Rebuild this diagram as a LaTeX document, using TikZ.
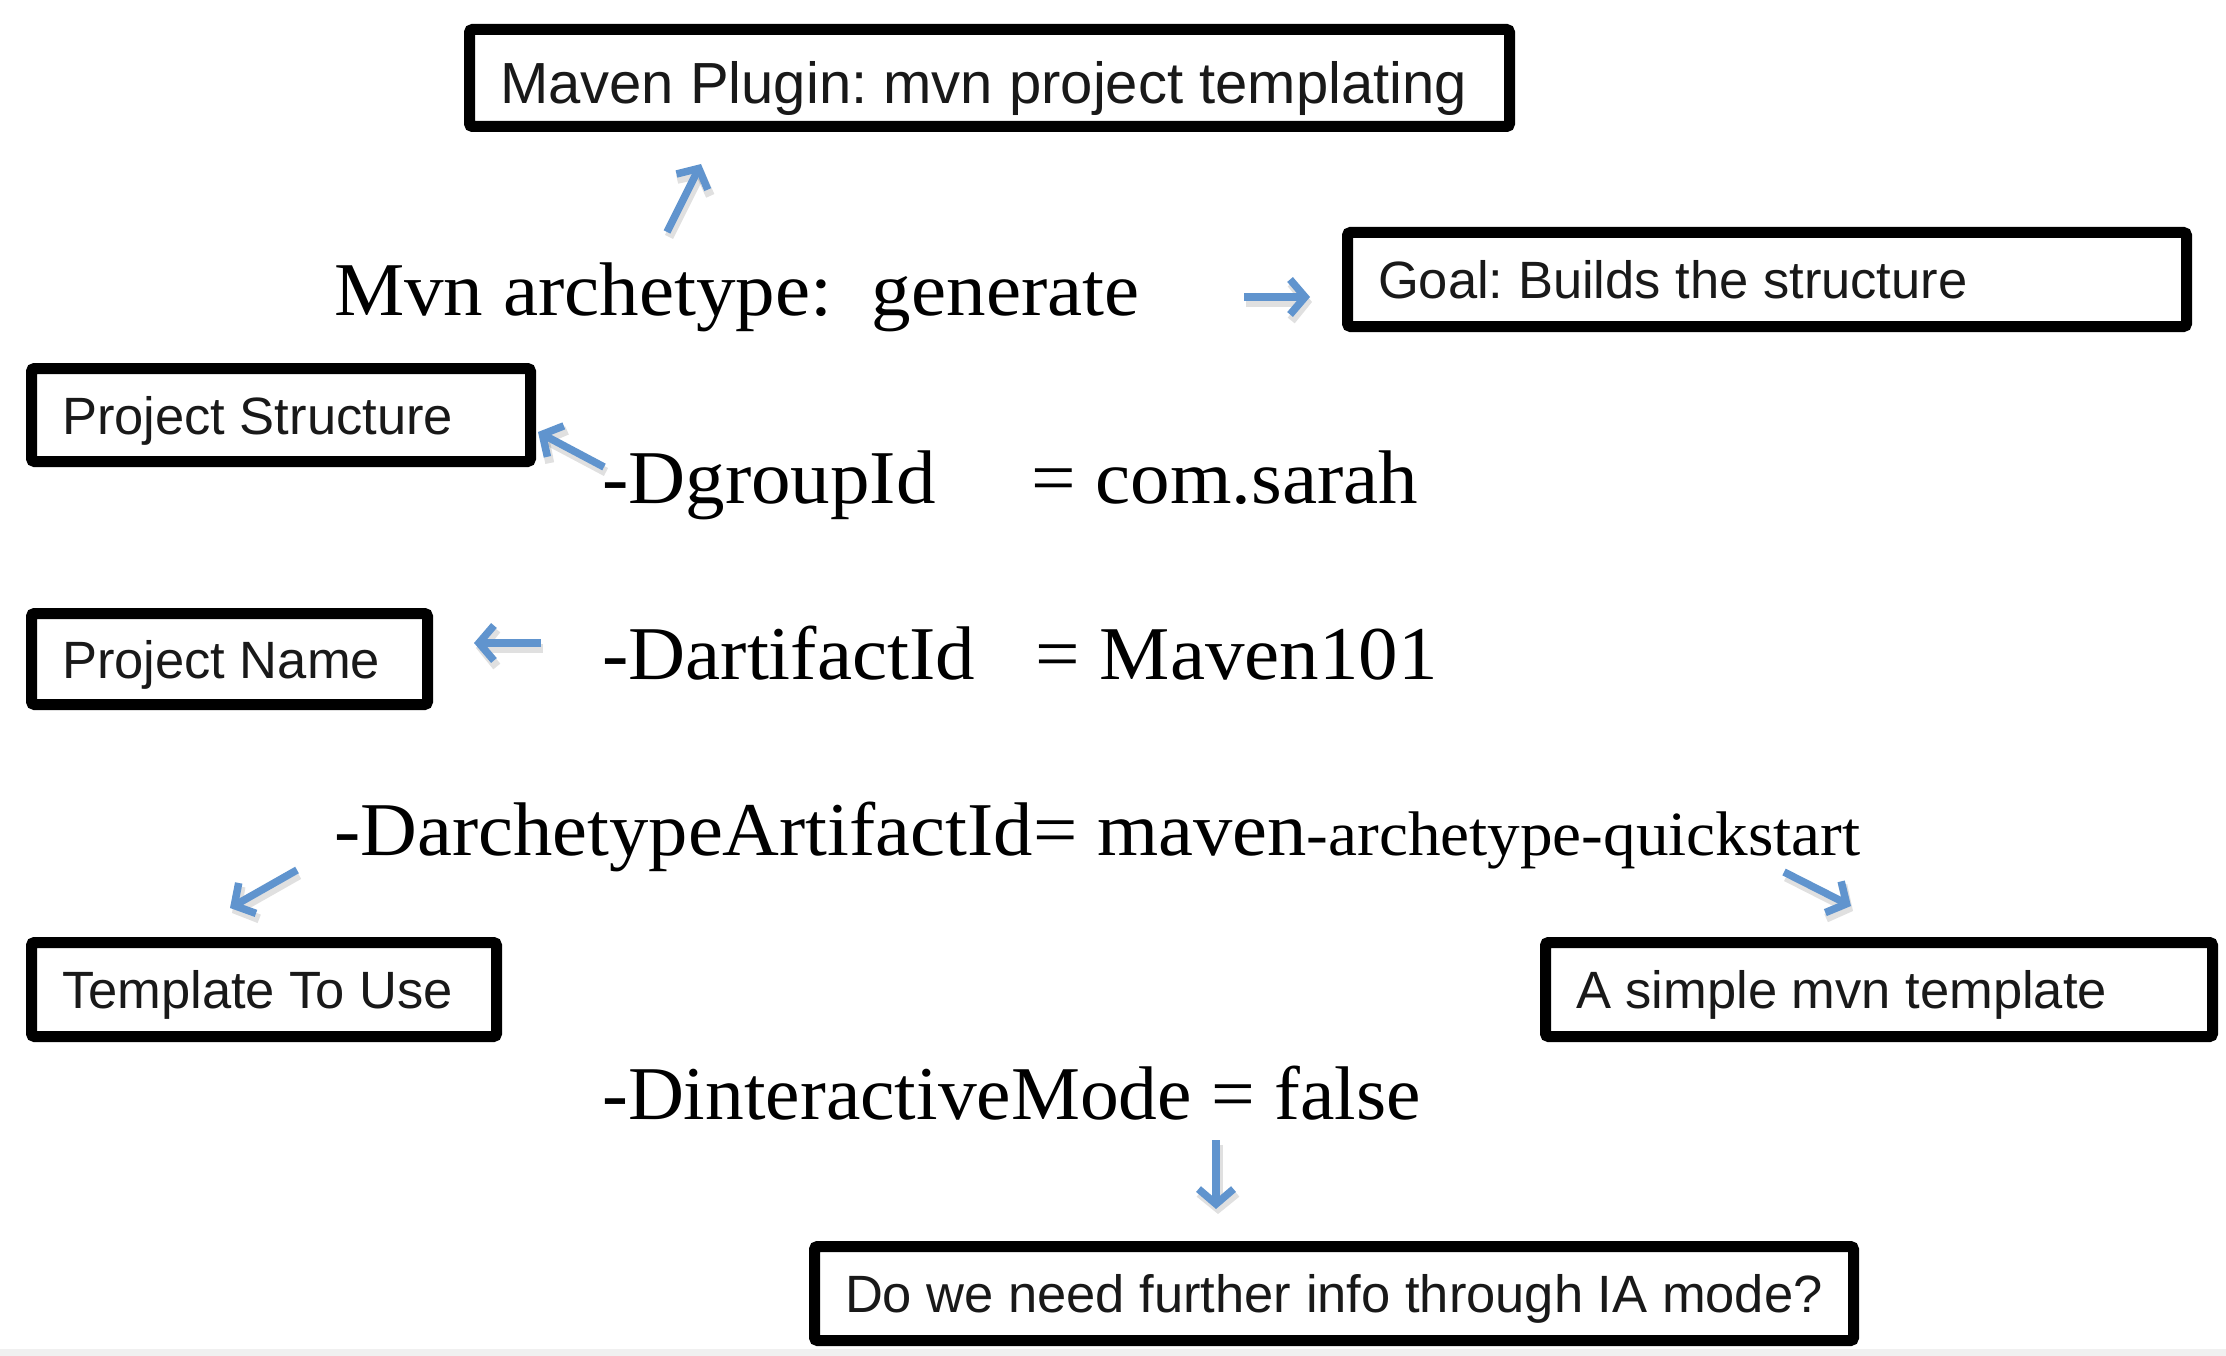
\documentclass[tikz,border=0pt]{standalone}
\usepackage{graphicx}
\usepackage{fontspec}
\setmainfont{Liberation Serif}
\newfontfamily\boxfont{Liberation Sans}
\usetikzlibrary{arrows.meta}
\definecolor{arrblue}{RGB}{96,148,206}
\definecolor{txt}{RGB}{25,25,25}
\newcommand{\sx}[2][1.04]{\scalebox{#1}[1]{#2}}
\newcommand{\bt}[2]{\makebox[#1][l]{#2}}
\frenchspacing
\begin{document}
\begin{tikzpicture}[x=1pt,y=-1pt,
  code/.style={anchor=base west, inner sep=0pt, font=\fontsize{76}{84}\selectfont, text=black},
  box/.style={draw=black, line width=11pt, rounded corners=3pt, anchor=north west,
    inner xsep=30.5pt, inner ysep=0pt,
    font=\boxfont\fontsize{52.5}{60}\selectfont, text=txt, text height=38pt, text depth=0pt},
  arr/.style={draw=arrblue, line width=7.5pt, -{Straight Barb[length=15pt,width=35pt]}},
  arrshadow/.style={draw=black, opacity=0.12, line width=9pt, -{Straight Barb[length=15pt,width=37pt]}}
]
\useasboundingbox (0,0) rectangle (2226,1356);
\fill[white] (0,0) rectangle (2226,1356);

% boxes
\node[box, minimum height=97pt, font=\boxfont\fontsize{58}{64}\selectfont, text height=52pt] (mp) at (464,24) {\bt{979pt}{Maven Plugin: mvn project templating}};
\node[box, minimum height=94pt] (goal) at (1342,227) {\bt{778pt}{Goal: Builds the structure}};
\node[box, minimum height=93pt] (ps) at (26,363) {\bt{438pt}{Project Structure}};
\node[box, minimum height=91pt] (pn) at (26,608) {\bt{335pt}{Project Name}};
\node[box, minimum height=94pt] (tu) at (26,937) {\bt{404pt}{Template To Use}};
\node[box, minimum height=94pt] (st) at (1540,937) {\bt{606pt}{A simple mvn template}};
\node[box, minimum height=94pt] (ia) at (809,1241) {\bt{978pt}{Do we need further info through IA mode?}};

% code lines
\node[code] (mvn) at (334,315) {\sx{Mvn archetype:\hspace{0.5em}generate}};
\node[code] (gid) at (602,503) {\sx{-DgroupId\hspace{92pt}= com.sarah}};
\node[code] (aid) at (602,679) {\sx{-DartifactId\hspace{58pt}= Maven101}};
\node[code] (arch) at (334,855) {\sx[1.035]{-DarchetypeArtifactId= maven{\fontsize{63}{68}\selectfont -archetype-quickstart}}};
\node[code] (imode) at (602,1119) {\sx[1.02]{-DinteractiveMode = false}};

% arrow end points
\coordinate (a1s) at (667,232); \coordinate (a1e) at (701,164);
\coordinate (a2s) at (1244,297); \coordinate (a2e) at (1310,297);
\coordinate (a3s) at (604,467); \coordinate (a3e) at (538,432);
\coordinate (a4s) at (541,643); \coordinate (a4e) at (474,643);
\coordinate (a5s) at (297,870); \coordinate (a5e) at (230,908);
\coordinate (a6s) at (1784,872); \coordinate (a6e) at (1851,906);
\coordinate (a7s) at (1216,1140); \coordinate (a7e) at (1216,1209);

\foreach \i in {1,...,7}{
  \draw[arrshadow] ([shift={(2,5)}]a\i s) -- ([shift={(2,5)}]a\i e);
  \draw[arr] (a\i s) -- (a\i e);
}

% bottom strip
\fill[black!6] (0,1349) rectangle (2226,1356);
\end{tikzpicture}
\end{document}
